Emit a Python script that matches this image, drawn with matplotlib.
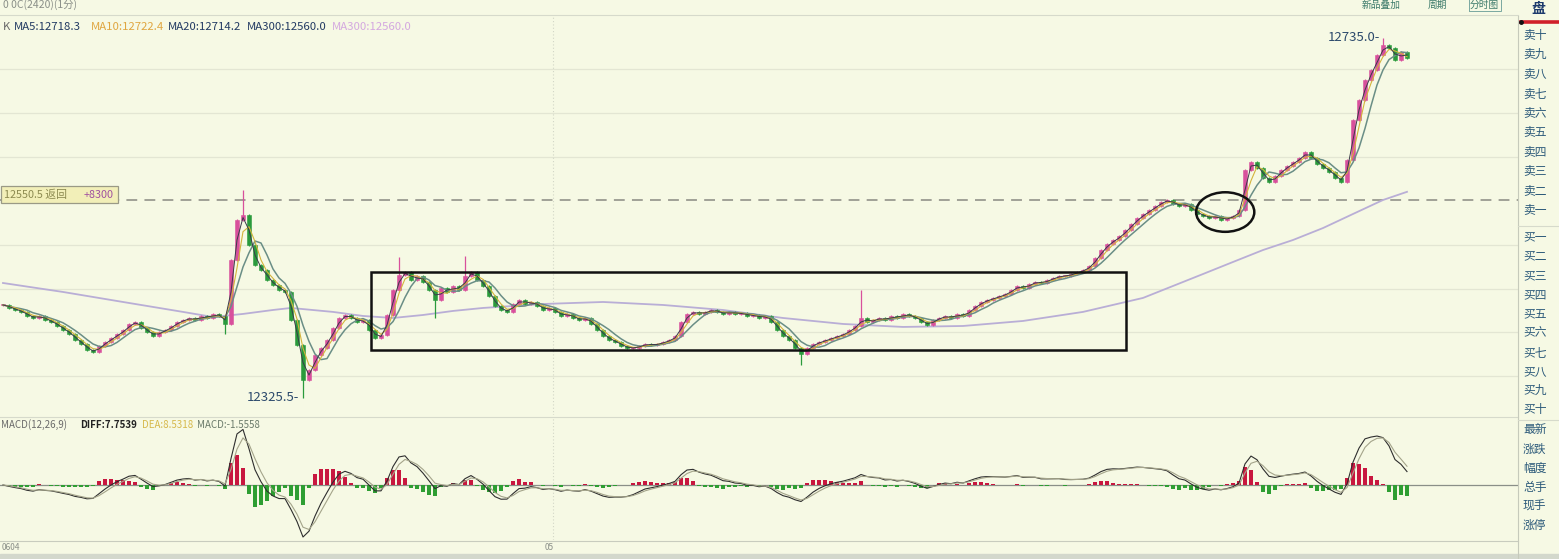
import numpy as np
import pandas as pd
import matplotlib
matplotlib.use("Agg")
import matplotlib.pyplot as plt
from matplotlib.patches import Rectangle, Ellipse

plt.rcParams['font.family'] = ['Noto Sans CJK SC', 'DejaVu Sans']

# ---- data -------------------------------------------------------------
closes = [
    12431.3, 12427.9, 12425.6, 12423.4, 12418.8, 12416.5, 12418.8, 12414.2, 12411.9, 12407.4,
    12402.8, 12398.3, 12391.5, 12386.9, 12380.1, 12377.8, 12384.6, 12389.2, 12393.7, 12398.3,
    12402.8, 12409.7, 12411.9, 12405.1, 12400.6, 12396.0, 12400.6, 12402.8, 12407.4, 12411.9,
    12414.2, 12416.5, 12414.2, 12418.8, 12416.5, 12421.1, 12418.8, 12409.7, 12482.5, 12527.9,
    12533.6, 12499.5, 12476.8, 12471.1, 12459.7, 12454.1, 12448.4, 12446.1, 12414.2, 12385.8,
    12345.9, 12357.3, 12374.4, 12382.4, 12391.5, 12405.1, 12416.5, 12419.9, 12416.5, 12411.9,
    12414.2, 12402.8, 12393.7, 12397.1, 12419.9, 12448.4, 12465.4, 12468.8, 12459.7, 12464.3,
    12457.5, 12448.4, 12437.0, 12450.6, 12446.1, 12452.9, 12448.4, 12464.3, 12468.8, 12459.7,
    12452.9, 12441.5, 12430.2, 12425.6, 12423.4, 12432.4, 12437.0, 12432.4, 12434.7, 12430.2,
    12425.6, 12427.9, 12423.4, 12418.8, 12421.1, 12416.5, 12414.2, 12416.5, 12409.7, 12402.8,
    12396.0, 12391.5, 12389.2, 12384.6, 12382.4, 12382.4, 12384.6, 12386.9, 12385.8, 12386.9,
    12389.2, 12391.5, 12396.0, 12411.9, 12421.1, 12423.4, 12421.1, 12423.4, 12425.6, 12423.4,
    12421.1, 12423.4, 12421.1, 12422.2, 12418.8, 12419.9, 12416.5, 12418.8, 12411.9, 12402.8,
    12396.0, 12391.5, 12382.4, 12375.5, 12382.4, 12386.9, 12389.2, 12391.5, 12393.7, 12396.0,
    12398.3, 12402.8, 12407.4, 12416.5, 12411.9, 12414.2, 12416.5, 12414.2, 12418.8, 12416.5,
    12421.1, 12418.8, 12416.5, 12411.9, 12408.5, 12414.2, 12416.5, 12418.8, 12416.5, 12421.1,
    12418.8, 12425.6, 12430.2, 12434.7, 12437.0, 12439.3, 12441.5, 12443.8, 12448.4, 12452.9,
    12450.6, 12455.2, 12457.5, 12456.3, 12459.7, 12462.0, 12464.3, 12464.3, 12466.5, 12468.8,
    12471.1, 12475.6, 12484.7, 12493.8, 12500.7, 12505.2, 12509.7, 12516.6, 12523.4, 12530.2,
    12534.8, 12539.3, 12543.9, 12548.4, 12550.7, 12546.2, 12543.9, 12546.2, 12539.3, 12534.8,
    12532.5, 12530.2, 12532.5, 12527.9, 12530.2, 12532.5, 12539.3, 12584.8, 12593.9, 12587.1,
    12575.8, 12571.2, 12578.0, 12584.8, 12589.4, 12593.9, 12598.5, 12605.3, 12598.5, 12591.7,
    12587.1, 12582.6, 12575.8, 12571.2, 12596.2, 12641.7, 12664.5, 12687.2, 12698.6, 12715.6,
    12727.0, 12723.6, 12710.0, 12719.1, 12712.2,
]

# notable shadows (bar index -> price)
high_spikes = {40: 12562.0, 66: 12486.0, 77: 12487.0, 143: 12448.0, 230: 12735.0}
low_spikes = {37: 12398.0, 50: 12325.5, 72: 12416.0, 133: 12363.0}

# long moving average, sampled at bar indices
ma300_idx = [0, 10, 20, 30, 35, 40, 45, 48, 55, 60, 65, 70, 75, 80, 90, 100, 110, 120,
             130, 140, 150, 160, 170, 180, 190, 200, 205, 210, 215, 220, 225, 230, 234]
ma300_val = [12456.3, 12446.1, 12434.7, 12423.4, 12417.6, 12421.1, 12425.6, 12427.9,
             12423.4, 12418.8, 12416.5, 12419.9, 12424.5, 12427.9, 12432.4, 12434.7,
             12431.3, 12425.6, 12416.5, 12409.7, 12406.3, 12407.4, 12413.1, 12423.4,
             12439.3, 12466.5, 12480.2, 12493.8, 12505.2, 12518.8, 12534.8, 12550.7, 12560.0]

ref_price = 12550.5
grid_prices = [12350, 12400, 12450, 12500, 12600, 12650, 12700]
session_break = 91.7
box_span = (61.3, 187.2, 12380.0, 12469.0)      # x0, x1, y0, y1
circle_mark = (203.7, 12537.0, 9.7, 45.0)       # cx, cy, w, h

ask_labels = ['卖十', '卖九', '卖八', '卖七', '卖六', '卖五', '卖四', '卖三', '卖二', '卖一']
bid_labels = ['买一', '买二', '买三', '买四', '买五', '买六', '买七', '买八', '买九', '买十']
info_labels = ['最新', '涨跌', '幅度', '总手', '现手', '涨停']

# ---- derived series -----------------------------------------------------
c = pd.Series(closes, dtype=float)
o = c.shift(1).fillna(c.iloc[0])
body_hi = np.maximum(o, c)
body_lo = np.minimum(o, c)
hi = body_hi + 1.5
lo = body_lo - 1.5
for k, v in high_spikes.items():
    hi[k] = v
for k, v in low_spikes.items():
    lo[k] = v
idx = np.arange(len(c))

# periods expressed in resampled bars (one bar spans several minutes)
ma5 = c.rolling(2, min_periods=1).mean()
ma10 = c.rolling(3, min_periods=1).mean()
ma20 = c.rolling(5, min_periods=1).mean()

ema_fast = c.ewm(span=3, adjust=False).mean()
ema_slow = c.ewm(span=6.5, adjust=False).mean()
diff = ema_fast - ema_slow
dea = diff.ewm(span=2.5, adjust=False).mean()
hist = 2 * (diff - dea)

# ---- figure -------------------------------------------------------------
W, H = 1559, 559
BG = '#f6f9e4'
fig = plt.figure(figsize=(W / 100, H / 100), dpi=100, facecolor=BG)


def fx(px):
    return px / W


def fy(py):
    return 1 - py / H


def price_at(py):
    return 12778.2 - 1.1375 * py


XL = (-0.5, 252.5)
ax = fig.add_axes([0, fy(415), 1518 / W, (415 - 17) / H])
ax.set_facecolor(BG)
ax.set_xlim(*XL)
ax.set_ylim(price_at(415), price_at(17))
for s in ax.spines.values():
    s.set_visible(False)
ax.set_xticks([])
ax.set_yticks([])

for gp in grid_prices:
    ax.axhline(gp, color='#e3e6d3', lw=0.9, zorder=0)
ax.axhline(ref_price, color='#9a9a90', lw=1.3, ls=(0, (6, 4)), zorder=1)
ax.axvline(session_break, color='#d2d6c6', lw=0.8, ls=(0, (1, 2)), zorder=0)

up = c >= o
colors = np.where(up, '#d8509c', '#2a9a3c')
ax.vlines(idx, lo, hi, colors=colors, lw=0.9, zorder=3)
ax.bar(idx, (body_hi - body_lo).clip(lower=0.8), bottom=body_lo, width=0.62,
       color=colors, edgecolor=colors, lw=0.4, zorder=4)

ax.plot(ma300_idx, ma300_val, color='#b9aed6', lw=1.3, zorder=2)
ax.plot(idx, ma20, color='#6a8e86', lw=1.1, zorder=5)
ax.plot(idx, ma10, color='#d4b43c', lw=0.8, zorder=5)
ax.plot(idx, ma5, color='#3a3a48', lw=0.7, zorder=5)

bx0, bx1, by0, by1 = box_span
ax.add_patch(Rectangle((bx0, by0), bx1 - bx0, by1 - by0, fill=False,
                       ec='#111111', lw=1.8, zorder=6))
cx, cy, cw, ch = circle_mark
ax.add_patch(Ellipse((cx, cy), cw, ch, fill=False, ec='#111111', lw=1.8, zorder=6))

lab_col = '#2c4a6c'
ax.text(49.4, low_spikes[50], '12325.5-', ha='right', va='center', fontsize=9.5,
        color=lab_col, zorder=7)
ax.text(229.6, high_spikes[230], '12735.0-', ha='right', va='center', fontsize=9.5,
        color=lab_col, zorder=7)

# ---- MACD panel ---------------------------------------------------------
mx = fig.add_axes([0, fy(540), 1518 / W, 122 / H])
mx.set_facecolor(BG)
mx.set_xlim(*XL)
scale = max(max(diff.max(), hist.max()) / 62.0, -min(diff.min(), hist.min()) / 52.0)
mx.set_ylim(-55 * scale, 67 * scale)
for s in mx.spines.values():
    s.set_visible(False)
mx.set_xticks([])
mx.set_yticks([])
mx.axhline(0, color='#8a8f88', lw=0.9, zorder=1)
mx.axvline(session_break, color='#d2d6c6', lw=0.8, ls=(0, (1, 2)), zorder=0)
hcol = np.where(hist >= 0, '#c8173f', '#2e9e32')
mx.bar(idx, hist, width=0.75, color=hcol, zorder=2)
mx.plot(idx, diff, color='#2e2e2e', lw=0.8, zorder=3)
mx.plot(idx, dea, color='#a4a48a', lw=0.8, zorder=3)

# ---- frame lines ----------------------------------------------------------
line_kw = dict(transform=fig.transFigure, lw=0.8)
fig.add_artist(plt.Line2D([0, fx(1518)], [fy(15), fy(15)], color='#d6dacb', **line_kw))
fig.add_artist(plt.Line2D([0, fx(1518)], [fy(417), fy(417)], color='#d6dacb', **line_kw))
fig.add_artist(plt.Line2D([0, fx(1518)], [fy(541), fy(541)], color='#c8ccbe', **line_kw))
fig.add_artist(plt.Line2D([fx(1518), fx(1518)], [fy(16), 0], color='#c6cabb', **line_kw))
fig.add_artist(plt.Line2D([fx(1518), 1], [fy(226), fy(226)], color='#d6dacb', **line_kw))
fig.add_artist(plt.Line2D([fx(1518), 1], [fy(420), fy(420)], color='#d6dacb', **line_kw))
fig.add_artist(plt.Line2D([fx(1521), 1], [fy(22), fy(22)], color='#d0202a',
                          transform=fig.transFigure, lw=2.6))
fig.add_artist(plt.Line2D([fx(1521)], [fy(22)], marker='o', ms=2.5, color='#111111',
                          transform=fig.transFigure))
fig.add_artist(Rectangle((0, 0), 1, 5 / H, transform=fig.transFigure,
                         color='#d3d8cc', zorder=0))

# ---- texts ----------------------------------------------------------------
fig.text(fx(3), fy(5), '0 0C(2420)(1分)', fontsize=7.5, color='#8a8f88', va='center')
fig.text(fx(1362), fy(5), '新品叠加', fontsize=7, color='#3c7a6a', va='center')
fig.text(fx(1428), fy(5), '周期', fontsize=7, color='#3c7a6a', va='center')
fig.text(fx(1470), fy(5), '分时图', fontsize=7, color='#3c7a6a', va='center',
         bbox=dict(boxstyle='square,pad=0.15', fc='none', ec='#7aa8a0', lw=0.7))
fig.text(fx(1531), fy(9), '盘', fontsize=10, color='#1c3a6c', va='center',
         fontweight='bold')

leg_y = fy(27)
leg_items = [(3, 'K', '#6a6a6a'), (14, 'MA5:12718.3', '#223a62'),
             (91, 'MA10:12722.4', '#e0a640'), (168, 'MA20:12714.2', '#223a62'),
             (247, 'MA300:12560.0', '#223a62'), (332, 'MA300:12560.0', '#d4a8e0')]
for px, txt, col in leg_items:
    fig.text(fx(px), leg_y, txt, fontsize=8.2, color=col, va='center')

# current-price tag on the reference line
fig.add_artist(Rectangle((fx(1), fy(203)), fx(117), 17 / H, transform=fig.transFigure,
                         fc='#f2efb8', ec='#9a9a86', lw=0.9, zorder=5))
fig.text(fx(4), fy(194.5), f'{ref_price:.1f} 返回', fontsize=7.8, color='#8c8a50',
         va='center', zorder=6)
fig.text(fx(84), fy(194.5), '+8300', fontsize=7.8, color='#a050a0', va='center', zorder=6)

macd_items = [(1, 'MACD(12,26,9)', '#6a6a6a', 'normal'),
              (80, 'DIFF:7.7539', '#222222', 'bold'),
              (142, 'DEA:8.5318', '#d6b84a', 'normal'),
              (197, 'MACD:-1.5558', '#6a7a6a', 'normal')]
for px, txt, col, wt in macd_items:
    fig.text(fx(px), fy(425), txt, fontsize=7, color=col, va='center', fontweight=wt)

fig.text(fx(2), fy(548), '0604', fontsize=6, color='#8a8f88', va='center')
fig.text(fx(545), fy(548), '05', fontsize=6, color='#8a8f88', va='center')

side_col = '#2c5a7a'
for k, t in enumerate(ask_labels):
    fig.text(fx(1523), fy(35 + k * 19.4), t, fontsize=8.5, color=side_col, va='center')
for k, t in enumerate(bid_labels):
    fig.text(fx(1523), fy(237 + k * 19.2), t, fontsize=8.5, color=side_col, va='center')
for k, t in enumerate(info_labels):
    fig.text(fx(1523), fy(430 + k * 19.0), t, fontsize=8.5, color=side_col, va='center')

fig.savefig('out.png', dpi=100, facecolor=BG)
